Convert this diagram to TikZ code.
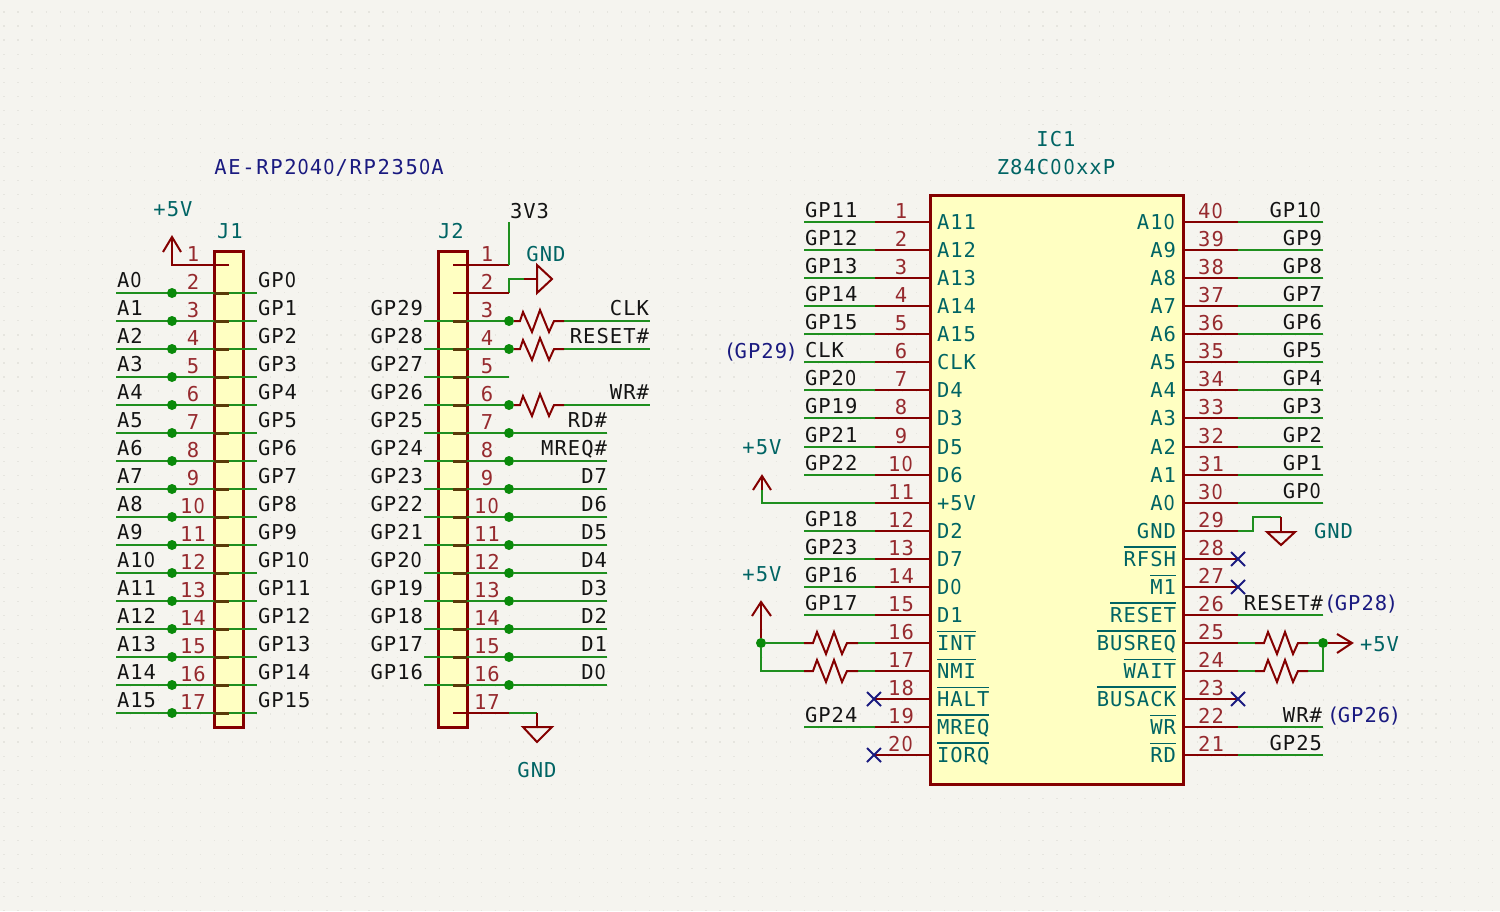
\documentclass[tikz,border=0pt]{standalone}
\usepackage{fontspec}
\setmainfont[LetterSpace=5]{DejaVu Sans Mono}
\newfontfamily\zf[FakeStretch=0.86]{DejaVu Sans}
\newfontfamily\titlef[LetterSpace=8]{DejaVu Sans Mono}
\definecolor{bgc}{HTML}{F5F4EF}
\definecolor{gridc}{HTML}{E6E5DF}
\definecolor{pinc}{HTML}{840000}
\definecolor{numc}{HTML}{962A2E}
\definecolor{wirec}{HTML}{1F8F1F}
\definecolor{stubc}{HTML}{5A3A0A}
\definecolor{tealc}{HTML}{006464}
\definecolor{navyc}{HTML}{1A1A80}
\definecolor{bodyc}{HTML}{FFFFC2}
\definecolor{blackc}{HTML}{141414}
\definecolor{dotc}{HTML}{0A8A0A}
\newcommand\ovl[1]{\leavevmode\vbox{\hrule height 1.7pt \kern 2.6pt \hbox{#1}}}
% plain zero, as the reference prints it
\newcommand\z{\makebox[.652em]{\zf 0}}
\newcommand\pn[1]{\ifnum\numexpr#1-(#1/10)*10\relax=0 \number\numexpr#1/10\relax\z\else#1\fi}
\newcommand\paren[1]{(\kern-1.5pt #1\kern-1.5pt)}
\tikzset{
  every node/.style={inner sep=0pt,outer sep=0pt,font=\fontsize{20.5}{24}\selectfont},
  body/.style={draw=pinc,line width=3pt,fill=bodyc,line join=miter},
  pinl/.style={draw=pinc,line width=2pt},
  stubl/.style={draw=stubc,line width=3pt},
  wirel/.style={draw=wirec,line width=2pt},
  ncx/.style={draw=navyc,line width=2pt},
  junc/.style={circle,fill=dotc,minimum size=10pt},
  lbl/.style={text=blackc},
  num/.style={text=numc,anchor=base},
  pinname/.style={text=tealc},
  refl/.style={text=tealc},
  powl/.style={text=tealc},
  note/.style={text=navyc},
}
\newcommand\zigzag[2]{\draw[pinl,line join=miter] (#1) -- ++(9,0) -- ++(4,-11) -- ++(9,22) -- ++(8,-22) -- ++(8,22) -- ++(5,-11) -- (#2);}
\begin{document}
\begin{tikzpicture}[x=1pt,y=-1pt]
\useasboundingbox (0,0) rectangle (1500,911);
\fill[bgc] (0,0) rectangle (1500,911);
\foreach \g in {0,...,64}{
  \draw[gridc,line width=1.2pt,dash pattern=on 1.2pt off 12.84pt,dash phase=-3.4pt] (0,12+14.04*\g) -- (1500,12+14.04*\g);
}

% ===== title =====
\node[note,anchor=base] (title) at (329,174) {\titlef\fontsize{20.5}{24}\selectfont AE-RP2\z4\z/RP235\z A};

% ===== J1 =====
\foreach \n/\ya in {2/293,3/321,4/349,5/377,6/405,7/433,8/461,9/489,10/517,11/545,12/573,13/601,14/629,15/657,16/685,17/713}{
  \coordinate (ja\n) at (116,\ya);
  \coordinate (jb\n) at (257,\ya);
}
\node[body,minimum width=29pt,minimum height=476pt,anchor=north west] (J1) at (214,251) {};
\foreach \n/\ya/\l/\r in {2/293/A\z/GP\z,3/321/A1/GP1,4/349/A2/GP2,5/377/A3/GP3,6/405/A4/GP4,7/433/A5/GP5,8/461/A6/GP6,9/489/A7/GP7,10/517/A8/GP8,11/545/A9/GP9,12/573/A1\z/GP1\z,13/601/A11/GP11,14/629/A12/GP12,15/657/A13/GP13,16/685/A14/GP14,17/713/A15/GP15}{
  \draw[wirel] (ja\n) -- (jb\n);
  \draw[stubl] (214,\ya) -- (229,\ya);
  \node[junc] (jd\n) at (172,\ya) {};
  \node[lbl,anchor=base west] (jl\n) at (117,\ya-6) {\l};
  \node[lbl,anchor=base west] (jr\n) at (258,\ya-6) {\r};
  \node[num] (jn\n) at (193,\ya-4) {\pn{\n}};
}
\node[num] (jn1) at (193,261) {1};
\coordinate (j1s) at (229,265);
\coordinate (j1c) at (172,265);
\coordinate (j1t) at (172,237);
\draw[pinl] (j1s) -- (j1c) -- (j1t);
\draw[pinl] (163,252) -- (j1t) -- (181,252);
\node[powl,anchor=base] (j1pow) at (173,216) {+5V};
\node[refl,anchor=base] (j1ref) at (230,238) {J1};

% ===== J2 =====
\node[body,minimum width=29pt,minimum height=476pt,anchor=north west] (J2) at (438,251) {};
\node[refl,anchor=base] (j2ref) at (451,238) {J2};
\foreach \n/\ya/\l in {3/321/GP29,4/349/GP28,5/377/GP27,6/405/GP26,7/433/GP25,8/461/GP24,9/489/GP23,10/517/GP22,11/545/GP21,12/573/GP2\z,13/601/GP19,14/629/GP18,15/657/GP17,16/685/GP16}{
  \coordinate (ka\n) at (424,\ya);
  \coordinate (kb\n) at (509,\ya);
  \draw[wirel] (ka\n) -- (kb\n);
  \draw[stubl] (453,\ya) -- (467,\ya);
  \node[lbl,anchor=base east] (kl\n) at (423,\ya-6) {\l};
  \node[num] (kn\n) at (487,\ya-4) {\pn{\n}};
}
\foreach \n/\ya in {1/265,2/293,17/713}{
  \node[num] (kn\n) at (487,\ya-4) {\n};
}
% pin 1: 3V3
\coordinate (k1s) at (453,265);
\coordinate (k1c) at (509,265);
\coordinate (k1t) at (509,222);
\draw[pinl] (k1s) -- (k1c);
\draw[wirel] (k1c) -- (k1t);
\node[lbl,anchor=base west] (k3v3) at (510,218) {3V3};
% pin 2: GND
\coordinate (k2s) at (453,293);
\coordinate (k2c) at (509,293);
\coordinate (k2d) at (509,279);
\coordinate (k2e) at (524,279);
\coordinate (k2g) at (537,279);
\draw[wirel] (k2c) -- (k2d) -- (k2e);
\draw[pinl] (k2s) -- (k2c);
\draw[pinl] (k2e) -- (k2g);
\draw[pinl,line join=miter] (537,265) -- (552,279) -- (537,293) -- cycle;
\node[powl,anchor=base] (k2gnd) at (546,261) {GND};
% resistors 3,4,6
\foreach \n/\ya/\t in {3/321/CLK,4/349/RESET\#,6/405/WR\#}{
  \coordinate (kw\n) at (564,\ya);
  \coordinate (ke\n) at (650,\ya);
  \draw[wirel] (kw\n) -- (ke\n);
  \node[junc] (kd\n) at (509,\ya) {};
  \draw[pinl,line join=miter] (kd\n) -- (520,\ya) -- ++(3,-9) -- ++(9,20) -- ++(8,-22) -- ++(9,22) -- ++(5,-11) -- (kw\n);
  \node[lbl,anchor=base east] (kt\n) at (649,\ya-6) {\t};
}
% direct labels 7..16
\foreach \n/\ya/\t in {7/433/RD\#,8/461/MREQ\#,9/489/D7,10/517/D6,11/545/D5,12/573/D4,13/601/D3,14/629/D2,15/657/D1,16/685/D\z}{
  \coordinate (ke\n) at (607,\ya);
  \node[junc] (kd\n) at (509,\ya) {};
  \draw[wirel] (kd\n) -- (ke\n);
  \node[lbl,anchor=base east] (kt\n) at (607,\ya-6) {\t};
}
% pin 17: GND
\coordinate (k17s) at (453,713);
\coordinate (k17c) at (509,713);
\coordinate (k17d) at (537,713);
\coordinate (k17g) at (537,727);
\draw[pinl] (k17s) -- (k17c);
\draw[wirel] (k17c) -- (k17d);
\draw[pinl] (k17d) -- (k17g);
\draw[pinl,line join=miter] (523,727) -- (552,727) -- (537,742) -- cycle;
\node[powl,anchor=base] (k17gnd) at (537,777) {GND};

% ===== IC1 =====
\node[refl,anchor=base] (icref) at (1056,146) {IC1};
\node[refl,anchor=base] (icval) at (1056,174) {Z84C\z\z xxP};
\node[body,minimum width=253pt,minimum height=589pt,anchor=north west] (IC1) at (930,195) {};

% left pins
\foreach \n/\ya/\inn/\out in {1/222/A11/GP11,2/250/A12/GP12,3/278/A13/GP13,4/306/A14/GP14,5/334/A15/GP15,6/362/CLK/CLK,7/390/D4/GP2\z,8/418/D3/GP19,9/447/D5/GP21,10/475/D6/GP22,12/531/D2/GP18,13/559/D7/GP23,14/587/D\z/GP16,15/615/D1/GP17,19/727/\ovl{MREQ}/GP24}{
  \coordinate (la\n) at (930,\ya);
  \coordinate (lb\n) at (875,\ya);
  \coordinate (lc\n) at (804,\ya);
  \draw[pinl] (la\n) -- (lb\n);
  \draw[wirel] (lb\n) -- (lc\n);
  \node[lbl,anchor=base west] (lo\n) at (805,\ya-5) {\out};
  \node[num] (ln\n) at (901,\ya-4) {\pn{\n}};
  \node[pinname,anchor=base west] (li\n) at (937,\ya+7) {\inn};
}
\foreach \n/\ya/\inn in {11/503/+5V,16/643/\ovl{INT},17/671/\ovl{NMI},18/699/\ovl{HALT},20/755/\ovl{IORQ}}{
  \coordinate (la\n) at (930,\ya);
  \node[num] (ln\n) at (901,\ya-4) {\pn{\n}};
  \node[pinname,anchor=base west] (li\n) at (937,\ya+7) {\inn};
}
% pin 11 to +5V
\coordinate (lb11) at (875,503);
\coordinate (lc11) at (762,503);
\coordinate (lm11) at (762,490);
\coordinate (lt11) at (762,476);
\draw[wirel] (lb11) -- (lc11) -- (lm11);
\draw[pinl] (la11) -- (lb11);
\draw[pinl] (lm11) -- (lt11);
\draw[pinl] (753,490) -- (lt11) -- (771,490);
\node[powl,anchor=base] (lp11) at (762,454) {+5V};
\node[note,anchor=base east] (lgp29) at (798,358) {\paren{GP29}};
% pins 16,17 pull-ups
\coordinate (lb16) at (858,643);
\coordinate (lr16) at (804,643);
\coordinate (lb17) at (858,671);
\coordinate (lr17) at (804,671);
\coordinate (lk17) at (761,671);
\coordinate (lt16) at (761,602);
\node[junc] (ld16) at (761,643) {};
\draw[pinl] (ld16.north) -- (lt16);
\draw[pinl] (752,616) -- (lt16) -- (771,616);
\draw[wirel] (ld16) -- (lr16);
\draw[wirel] (ld16) -- (lk17) -- (lr17);
\draw[wirel] (lb16) -- (875,643);
\draw[wirel] (lb17) -- (875,671);
\draw[pinl] (la16) -- (875,643);
\draw[pinl] (la17) -- (875,671);
\zigzag{lr16}{lb16}
\zigzag{lr17}{lb17}
\node[powl,anchor=base] (lp16) at (762,581) {+5V};
% no connects 18, 20
\foreach \n/\ya in {18/699,20/755}{
  \coordinate (lx\n) at (874,\ya);
  \draw[pinl] (la\n) -- (lx\n);
  \draw[ncx] (867,\ya-7) -- (881,\ya+7) (867,\ya+7) -- (881,\ya-7);
}

% right pins
\foreach \n/\ya/\inn/\out in {40/222/A1\z/GP1\z,39/250/A9/GP9,38/278/A8/GP8,37/306/A7/GP7,36/334/A6/GP6,35/362/A5/GP5,34/390/A4/GP4,33/418/A3/GP3,32/447/A2/GP2,31/475/A1/GP1,30/503/A\z/GP\z,21/755/\ovl{RD}/GP25}{
  \coordinate (ra\n) at (1183,\ya);
  \coordinate (rb\n) at (1238,\ya);
  \coordinate (rc\n) at (1323,\ya);
  \draw[pinl] (ra\n) -- (rb\n);
  \draw[wirel] (rb\n) -- (rc\n);
  \node[lbl,anchor=base east] (ro\n) at (1322,\ya-5) {\out};
  \node[num] (rn\n) at (1211,\ya-4) {\pn{\n}};
  \node[pinname,anchor=base east] (ri\n) at (1176,\ya+7) {\inn};
}
\foreach \n/\ya/\inn in {29/531/GND,28/559/\ovl{RFSH},27/587/\ovl{M1},26/615/\ovl{RESET},25/643/\ovl{BUSREQ},24/671/\ovl{WAIT},23/699/\ovl{BUSACK},22/727/\ovl{WR}}{
  \coordinate (ra\n) at (1183,\ya);
  \coordinate (rb\n) at (1238,\ya);
  \coordinate (rc\n) at (1323,\ya);
  \draw[pinl] (ra\n) -- (rb\n);
  \node[num] (rn\n) at (1211,\ya-4) {\n};
  \node[pinname,anchor=base east] (ri\n) at (1176,\ya+7) {\inn};
}
% pin 29 GND
\coordinate (r29a) at (1253,531);
\coordinate (r29b) at (1253,517);
\coordinate (r29c) at (1281,517);
\coordinate (r29d) at (1281,532);
\draw[wirel] (rb29) -- (r29a) -- (r29b) -- (r29c);
\draw[pinl] (r29c) -- (r29d);
\draw[pinl,line join=miter] (1267,532) -- (1295,532) -- (1281,545) -- cycle;
\node[powl,anchor=base west] (r29g) at (1314,538) {GND};
% no connects
\foreach \n/\ya in {28/559,27/587,23/699}{
  \draw[ncx] (1231,\ya-7) -- (1245,\ya+7) (1231,\ya+7) -- (1245,\ya-7);
}
% pin 26 RESET#, pin 22 WR#
\draw[wirel] (rb26) -- (rc26);
\draw[wirel] (rb22) -- (rc22);
\node[lbl,anchor=base east] (ro26) at (1323,610) {RESET\#};
\node[note,anchor=base west] (rg26) at (1324,610) {\paren{GP28}};
\node[lbl,anchor=base east] (ro22) at (1322,722) {WR\#};
\node[note,anchor=base west] (rg22) at (1327,722) {\paren{GP26}};
% pins 25,24 pull-ups
\coordinate (rr25) at (1255,643);
\coordinate (rs25) at (1308,643);
\coordinate (rr24) at (1255,671);
\coordinate (rs24) at (1308,671);
\coordinate (rk24) at (1323,671);
\coordinate (rt25) at (1352,643);
\draw[wirel] (rb25) -- (rr25);
\draw[wirel] (rb24) -- (rr24);
\node[junc] (rd25) at (1323,643) {};
\draw[wirel] (rs25) -- (rd25);
\draw[wirel] (rs24) -- (rk24) -- (rd25);
\draw[pinl] (rd25) -- (rt25);
\draw[pinl] (1337,634) -- (rt25) -- (1337,653);
\zigzag{rr25}{rs25}
\zigzag{rr24}{rs24}
\node[powl,anchor=base west] (rp25) at (1360,651) {+5V};
\end{tikzpicture}
\end{document}
